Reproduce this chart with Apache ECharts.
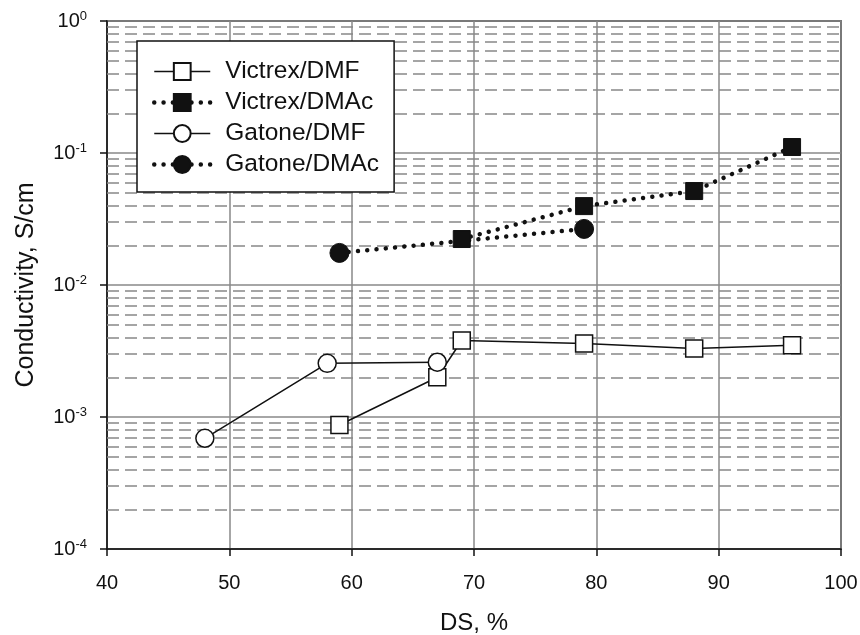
<!DOCTYPE html>
<html>
<head>
<meta charset="utf-8">
<script src="https://cdn.jsdelivr.net/npm/echarts@6/dist/echarts.min.js"></script>
<style>
  html, body { margin: 0; padding: 0; background: #fff; }
  #main { width: 860px; height: 635px; }
</style>
</head>
<body>
<div id="main"></div>
<script>
// DS, % (x) and conductivity, S/cm (y)
var victrexDmfX = [59, 67, 69, 79, 88, 96];
var victrexDmfY = [8.7e-4, 2.0e-3, 3.8e-3, 3.6e-3, 3.3e-3, 3.5e-3];
var victrexDmacX = [69, 79, 88, 96];
var victrexDmacY = [0.0223, 0.0396, 0.0515, 0.111];
var gatoneDmfX = [48, 58, 67];
var gatoneDmfY = [6.9e-4, 2.55e-3, 2.6e-3];
var gatoneDmacX = [59, 79];
var gatoneDmacY = [0.0175, 0.0266];

// minor (dashed) grid values: 2..9 in each decade
var minorGrid = [
  2e-4, 3e-4, 4e-4, 5e-4, 6e-4, 7e-4, 8e-4, 9e-4,
  2e-3, 3e-3, 4e-3, 5e-3, 6e-3, 7e-3, 8e-3, 9e-3,
  2e-2, 3e-2, 4e-2, 5e-2, 6e-2, 7e-2, 8e-2, 9e-2,
  2e-1, 3e-1, 4e-1, 5e-1, 6e-1, 7e-1, 8e-1, 9e-1
];

function pairs(xs, ys) {
  return xs.map(function (x, i) { return [x, ys[i]]; });
}

var chart = echarts.init(document.getElementById('main'));
var font = '"Liberation Sans", Arial, sans-serif';
var ink = '#111';
var dotted = { color: ink, width: 4.5, type: [0.01, 9.3], cap: 'round' };
var solid = { color: ink, width: 1.5, type: 'solid' };

var option = {
  animation: false,
  backgroundColor: '#fff',
  textStyle: { fontFamily: font, color: ink },
  grid: {
    left: 107, right: 19, top: 21, bottom: 86,
    outerBoundsMode: 'none',
    show: true, borderColor: ink, borderWidth: 1.5
  },
  legend: {
    orient: 'vertical',
    left: 137, top: 41,
    padding: [18, 15, 15, 15],
    itemWidth: 56, itemHeight: 21, itemGap: 6,
    backgroundColor: '#fff',
    borderColor: ink, borderWidth: 1.5,
    textStyle: { fontSize: 24.5, color: ink, fontFamily: font, padding: [0, 0, 0, 10] },
    data: [
      { name: 'Victrex/DMF', lineStyle: solid },
      { name: 'Victrex/DMAc', lineStyle: dotted },
      { name: 'Gatone/DMF', lineStyle: solid },
      { name: 'Gatone/DMAc', lineStyle: dotted }
    ]
  },
  xAxis: {
    type: 'value', min: 40, max: 100, interval: 10,
    name: 'DS, %', nameLocation: 'middle', nameGap: 62,
    nameTextStyle: { fontSize: 24, color: ink },
    axisLine: { lineStyle: { color: ink, width: 1.5 } },
    axisTick: { show: true, inside: false, length: 7, lineStyle: { color: ink, width: 1.5 } },
    axisLabel: { fontSize: 20, color: ink, margin: 24 },
    splitLine: { show: true, lineStyle: { color: '#888', width: 1.5 } }
  },
  yAxis: {
    type: 'log', logBase: 10, min: 1e-4, max: 1,
    name: 'Conductivity, S/cm', nameLocation: 'middle', nameGap: 68,
    nameTextStyle: { fontSize: 25, color: ink },
    axisLine: { lineStyle: { color: ink, width: 1.5 } },
    axisTick: { show: true, inside: false, length: 7, lineStyle: { color: ink, width: 1.5 } },
    axisLabel: {
      margin: 20,
      formatter: function (v) {
        var e = Math.round(Math.log10(v));
        return '{b|10}{s|' + e + '}';
      },
      rich: {
        b: { fontSize: 20, color: ink, fontFamily: font },
        s: { fontSize: 13, color: ink, fontFamily: font, verticalAlign: 'bottom', padding: [0, 0, 9, 0] }
      }
    },
    splitLine: { show: true, lineStyle: { color: '#888', width: 1.5 } }
  },
  series: [
    {
      name: 'Victrex/DMF', type: 'line',
      data: pairs(victrexDmfX, victrexDmfY),
      symbol: 'rect', symbolSize: 17,
      itemStyle: { color: '#fff', borderColor: ink, borderWidth: 1.5 },
      lineStyle: solid,
      z: 3,
      markLine: {
        silent: true, symbol: 'none', z: 1, animation: false,
        precision: 12,
        label: { show: false },
        lineStyle: { color: '#888', width: 1.5, type: [12, 6] },
        emphasis: { disabled: true },
        data: minorGrid.map(function (v) { return { yAxis: v }; })
      }
    },
    {
      name: 'Victrex/DMAc', type: 'line',
      data: pairs(victrexDmacX, victrexDmacY),
      symbol: 'rect', symbolSize: 17,
      itemStyle: { color: ink, borderColor: ink, borderWidth: 1 },
      lineStyle: dotted,
      z: 3
    },
    {
      name: 'Gatone/DMF', type: 'line',
      data: pairs(gatoneDmfX, gatoneDmfY),
      symbol: 'circle', symbolSize: 18,
      itemStyle: { color: '#fff', borderColor: ink, borderWidth: 1.5 },
      lineStyle: solid,
      z: 3
    },
    {
      name: 'Gatone/DMAc', type: 'line',
      data: pairs(gatoneDmacX, gatoneDmacY),
      symbol: 'circle', symbolSize: 19,
      itemStyle: { color: ink, borderColor: ink, borderWidth: 1 },
      lineStyle: dotted,
      z: 3
    }
  ]
};

chart.setOption(option);
</script>
</body>
</html>
